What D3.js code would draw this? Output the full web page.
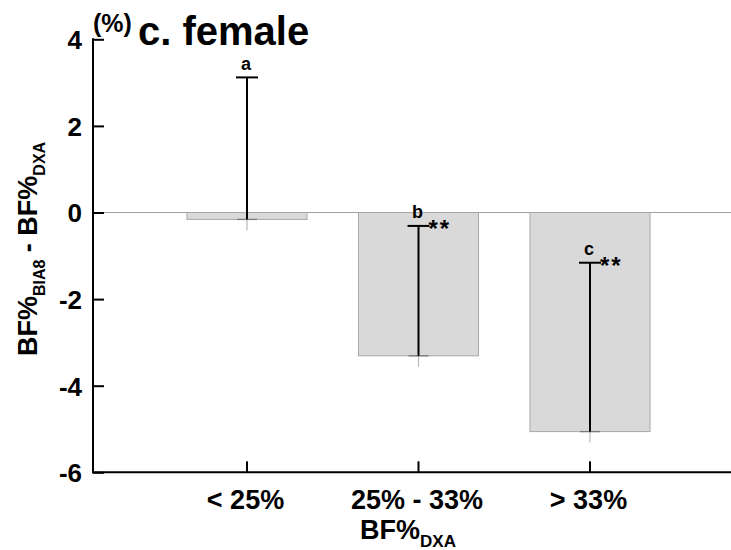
<!DOCTYPE html>
<html>
<head>
<meta charset="utf-8">
<script src="https://cdn.jsdelivr.net/npm/d3@7"></script>
<style>
  html, body { margin: 0; padding: 0; background: #fff; }
  svg { display: block; font-family: "Liberation Sans", Arial, sans-serif; }
</style>
</head>
<body>
<svg id="chart" width="731" height="550"></svg>
<script>
// BF% difference (BIA8 minus DXA) by DXA body-fat group, females
const categories = ["< 25%", "25% - 33%", "> 33%"];
const meanDiff = [-0.16, -3.31, -5.06];
const sdDiff = [3.28, 3.00, 3.90];
const groupLetters = ["a", "b", "c"];
const significance = ["", "**", "**"];
const yTicks = [-6, -4, -2, 0, 2, 4];

const svg = d3.select("#chart");
const W = 731, H = 550;
const plotLeft = 93, plotTop = 39.3, plotBottom = 472.3;

const y = d3.scaleLinear().domain([-6, 4]).range([plotBottom, plotTop]);
const x = d3.scaleBand()
  .domain(categories)
  .range([plotLeft, 744])
  .paddingInner(0.3)
  .paddingOuter(0.548);
const cx = d => x(d) + x.bandwidth() / 2;

// zero reference line
svg.append("line")
  .attr("x1", plotLeft).attr("x2", W)
  .attr("y1", y(0)).attr("y2", y(0))
  .attr("stroke", "#a0a0a0").attr("stroke-width", 1);

// bars
svg.append("g").selectAll("rect")
  .data(categories)
  .join("rect")
  .attr("x", d => x(d))
  .attr("width", x.bandwidth())
  .attr("y", (d, i) => Math.min(y(0), y(meanDiff[i])))
  .attr("height", (d, i) => Math.abs(y(meanDiff[i]) - y(0)))
  .attr("fill", "#d9d9d9")
  .attr("stroke", "#a8a8a8")
  .attr("stroke-width", 1);

// error bars: upper whisker in black, short grey stub below the mean
const eb = svg.append("g").selectAll("g")
  .data(categories)
  .join("g");

eb.append("line")
  .attr("x1", d => cx(d)).attr("x2", d => cx(d))
  .attr("y1", (d, i) => y(meanDiff[i]))
  .attr("y2", (d, i) => y(meanDiff[i]) + 11)
  .attr("stroke", "#b8b8b8").attr("stroke-width", 1.2);

eb.append("line")
  .attr("x1", d => cx(d) - 10).attr("x2", d => cx(d) + 10)
  .attr("y1", (d, i) => y(meanDiff[i]))
  .attr("y2", (d, i) => y(meanDiff[i]))
  .attr("stroke", "#7a7a7a").attr("stroke-width", 1.3);

eb.append("line")
  .attr("x1", d => cx(d)).attr("x2", d => cx(d))
  .attr("y1", (d, i) => y(meanDiff[i]))
  .attr("y2", (d, i) => y(meanDiff[i] + sdDiff[i]))
  .attr("stroke", "#000").attr("stroke-width", 2);

eb.append("line")
  .attr("x1", d => cx(d) - 11).attr("x2", d => cx(d) + 11)
  .attr("y1", (d, i) => y(meanDiff[i] + sdDiff[i]))
  .attr("y2", (d, i) => y(meanDiff[i] + sdDiff[i]))
  .attr("stroke", "#000").attr("stroke-width", 2);

// group letters and significance marks
eb.append("text")
  .attr("x", d => cx(d) - 1)
  .attr("y", (d, i) => y(meanDiff[i] + sdDiff[i]) - 7.5)
  .attr("text-anchor", "middle")
  .attr("font-size", 18).attr("font-weight", "bold")
  .text((d, i) => groupLetters[i]);

eb.append("text")
  .attr("x", d => cx(d) + 10)
  .attr("y", (d, i) => y(meanDiff[i] + sdDiff[i]) + 11)
  .attr("font-size", 24).attr("font-weight", "bold")
  .attr("letter-spacing", 2)
  .text((d, i) => significance[i]);

// y axis
const yAxis = d3.axisRight(y).tickValues(yTicks).tickSize(11).tickFormat(d3.format("d"));
const gy = svg.append("g").attr("transform", `translate(${plotLeft},0)`).call(yAxis);
gy.select(".domain").remove();
gy.selectAll(".tick line").attr("stroke", "#000").attr("stroke-width", 2);
gy.selectAll(".tick text")
  .attr("x", -11).attr("text-anchor", "end")
  .attr("dy", "0.36em")
  .attr("font-size", 26).attr("font-weight", "bold")
  .attr("fill", "#000")
  .attr("font-family", "'Liberation Sans', Arial, sans-serif")
  .text(d => d < 0 ? "-" + Math.abs(d) : d);

svg.append("line")
  .attr("x1", plotLeft).attr("x2", plotLeft)
  .attr("y1", plotTop - 1).attr("y2", plotBottom + 1)
  .attr("stroke", "#000").attr("stroke-width", 2);

// x axis
const xAxis = d3.axisTop(x).tickSize(11).tickSizeOuter(0);
const gx = svg.append("g").attr("transform", `translate(0,${plotBottom})`).call(xAxis);
gx.select(".domain").remove();
gx.selectAll(".tick line").attr("stroke", "#000").attr("stroke-width", 2);
gx.selectAll(".tick text").remove();

svg.append("line")
  .attr("x1", plotLeft - 1).attr("x2", W)
  .attr("y1", plotBottom).attr("y2", plotBottom)
  .attr("stroke", "#000").attr("stroke-width", 2);

svg.append("g").selectAll("text")
  .data(categories)
  .join("text")
  .attr("x", d => cx(d) - 1.5)
  .attr("y", 509)
  .attr("text-anchor", "middle")
  .attr("font-size", 27).attr("font-weight", "bold")
  .text(d => d);

// axis titles
const xt = svg.append("text")
  .attr("x", 408).attr("y", 539)
  .attr("text-anchor", "middle")
  .attr("font-size", 27).attr("font-weight", "bold");
xt.append("tspan").text("BF%");
xt.append("tspan").attr("font-size", 17).attr("dy", 8).text("DXA");

const yt = svg.append("text")
  .attr("transform", "translate(37,249) rotate(-90)")
  .attr("text-anchor", "middle")
  .attr("font-size", 27).attr("font-weight", "bold");
yt.append("tspan").text("BF%");
yt.append("tspan").attr("font-size", 16).attr("dy", 8).text("BIA8");
yt.append("tspan").attr("dy", -8).text(" - BF%");
yt.append("tspan").attr("font-size", 16).attr("dy", 8).text("DXA");

// unit and panel title
svg.append("text")
  .attr("x", 93).attr("y", 32)
  .attr("font-size", 25).attr("font-weight", "bold")
  .text("(%)");

svg.append("text")
  .attr("x", 138).attr("y", 45)
  .attr("font-size", 40).attr("font-weight", "bold")
  .text("c. female");
</script>
</body>
</html>
